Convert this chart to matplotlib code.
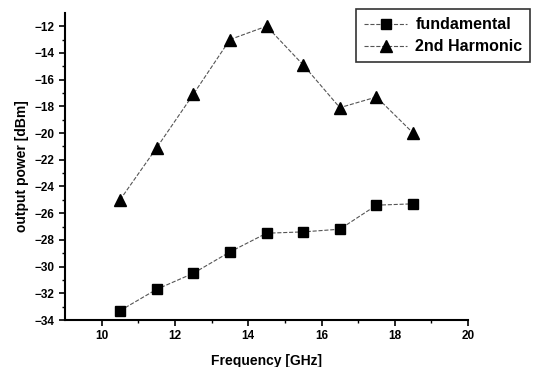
import numpy as np
import matplotlib.pyplot as plt

plt.rcParams['font.family'] = 'Liberation Sans'
plt.rcParams['font.weight'] = 'bold'

freq = [10.5, 11.5, 12.5, 13.5, 14.5, 15.5, 16.5, 17.5, 18.5]
fundamental = [-33.3, -31.7, -30.5, -28.9, -27.5, -27.4, -27.2, -25.4, -25.3]
harmonic2 = [-25.0, -21.1, -17.1, -13.0, -12.0, -14.9, -18.1, -17.3, -20.0]

xticks = [10, 12, 14, 16, 18, 20]
yticks = [-34, -32, -30, -28, -26, -24, -22, -20, -18, -16, -14, -12]

fig = plt.figure(figsize=(5.38, 3.67), dpi=100)
ax = fig.add_axes([0.121, 0.128, 0.749, 0.837])

ax.plot(freq, fundamental, color='#555555', ls='--', lw=0.8,
        marker='s', ms=7, mfc='black', mec='black', label='fundamental')
ax.plot(freq, harmonic2, color='#555555', ls='--', lw=0.8,
        marker='^', ms=8, mfc='black', mec='black', label='2nd Harmonic')

ax.set_xlim(9, 20)
ax.set_ylim(-34, -11)
ax.set_xticks(xticks)
ax.set_yticks(yticks)
ax.set_xticks(np.arange(11, 20, 2), minor=True)
ax.set_yticks(np.arange(-33, -11, 2), minor=True)
ax.tick_params(direction='out', length=4, width=1.2, labelsize=8.5)
ax.tick_params(which='minor', direction='out', length=2, width=1)

for s in ['top', 'right']:
    ax.spines[s].set_visible(False)
for s in ['left', 'bottom']:
    ax.spines[s].set_linewidth(1.5)

ax.set_xlabel('Frequency [GHz]', fontsize=10, fontweight='bold', labelpad=8)
ax.set_ylabel('output power [dBm]', fontsize=10, fontweight='bold')

leg = ax.legend(loc='upper right', bbox_to_anchor=(0.986, 0.975),
                bbox_transform=fig.transFigure, fontsize=11.5, frameon=True,
                fancybox=False, edgecolor='black', handlelength=2.7,
                handletextpad=0.5, borderpad=0.5, labelspacing=0.45,
                borderaxespad=0)
leg.get_frame().set_linewidth(1.2)

fig.savefig('out.png', dpi=100)
